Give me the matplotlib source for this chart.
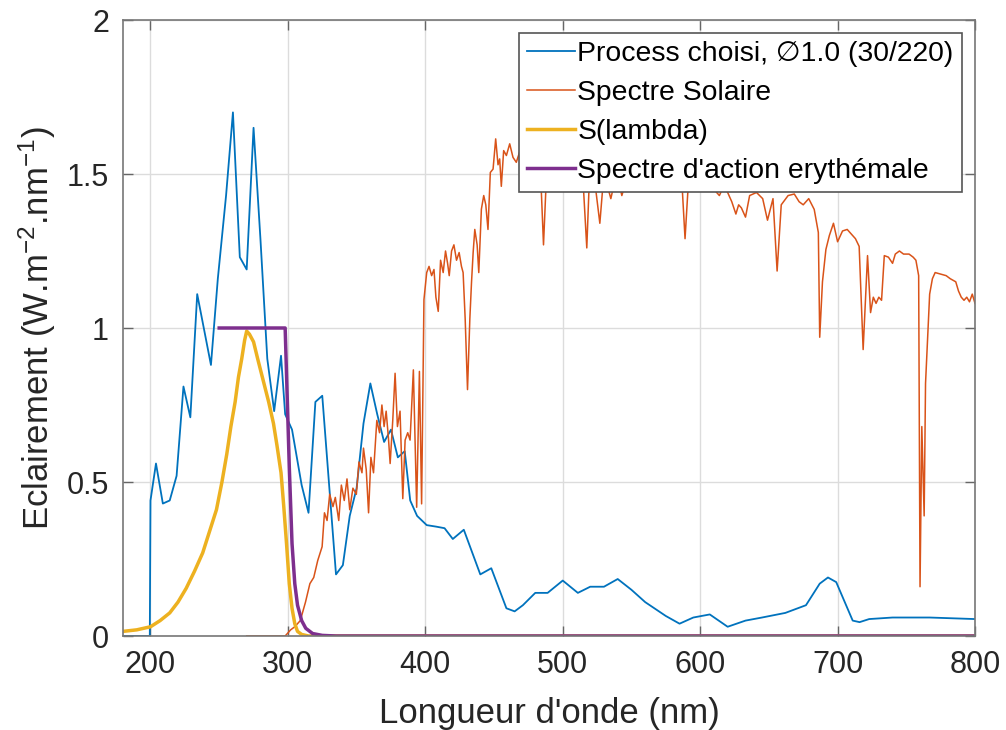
import matplotlib
import matplotlib.pyplot as plt

matplotlib.use('Agg')
plt.rcParams['font.family'] = ['Liberation Sans', 'DejaVu Sans']
plt.rcParams['mathtext.fontset'] = 'custom'
plt.rcParams['mathtext.rm'] = 'Liberation Sans'
plt.rcParams['mathtext.it'] = 'Liberation Sans:italic'
plt.rcParams['mathtext.bf'] = 'Liberation Sans:bold'

# Process choisi (lamp spectrum)
process_wl = [180, 199.5, 200, 204, 209, 214, 219, 224, 229, 234, 244, 249, 255, 260,
              265, 270, 275, 280, 285, 290, 295, 298, 303, 310, 315, 320, 325, 335,
              340, 345, 350, 355, 360, 365, 370, 375, 380, 385, 389, 394, 401, 408,
              414, 420, 428, 440, 448, 459, 465, 471, 480, 489, 500, 511, 520, 530,
              540, 550, 560, 575, 585, 595, 607, 620, 633, 645, 662, 677, 687, 693,
              699, 711, 716, 723, 740, 767, 800]
process_val = [0, 0, 0.44, 0.56, 0.43, 0.44, 0.52, 0.81, 0.71, 1.11, 0.88, 1.16, 1.43, 1.70,
               1.23, 1.19, 1.65, 1.29, 0.90, 0.73, 0.91, 0.72, 0.67, 0.49, 0.40, 0.76, 0.78, 0.20,
               0.23, 0.39, 0.48, 0.69, 0.82, 0.72, 0.63, 0.67, 0.58, 0.60, 0.44, 0.39, 0.36, 0.355,
               0.35, 0.315, 0.345, 0.20, 0.22, 0.09, 0.08, 0.10, 0.14, 0.14, 0.18, 0.14, 0.16, 0.16,
               0.185, 0.15, 0.11, 0.065, 0.04, 0.06, 0.07, 0.03, 0.05, 0.06, 0.075, 0.10, 0.17, 0.19,
               0.175, 0.05, 0.045, 0.055, 0.06, 0.06, 0.055]

# Spectre solaire
solar_wl = [270, 298, 302, 305, 309, 312.8, 316, 318.8, 321.7, 324.9, 326.6, 328.5, 330.4,
            332.8, 334.5, 337, 338.9, 341, 343, 345, 347.3, 349.8, 351.7, 353.9, 355, 357,
            358.7, 360.4, 362.3, 364.7, 366.7, 368.4, 370, 371.5, 373.2, 374.4, 376.3, 378,
            379.7, 381.6, 383.6, 385.3, 387.2, 388.9, 391.3, 393.7, 395.7, 397.3, 399, 401,
            402.7, 404.6, 406.3, 407.7, 409.4, 411.1, 413, 414.7, 416.2, 417.4, 419.1, 420.8,
            422.7, 424.6, 426.3, 427.5, 429, 430.7, 432.4, 433.6, 434.8, 436, 437.7, 438.9,
            440.8, 442.5, 444, 445.6, 447.3, 449.3, 451.2, 452.9, 454.1, 455.3, 457, 459,
            461.4, 463.8, 466.2, 468.6, 472, 476, 480, 484, 486, 488, 492, 495, 499, 503, 507,
            510, 515, 517.5, 519, 522, 524, 527, 529, 532, 535, 537, 540, 543, 545, 550, 555,
            560, 565, 570, 575, 580, 587, 589, 591, 596, 600, 605, 610, 614, 617, 620, 623,
            626, 628, 630, 633, 636, 641, 645.5, 649, 653, 656, 659, 664, 668.5, 672, 675,
            679, 683, 686, 687, 689, 691.5, 694, 697, 700, 703.6, 707, 711, 713, 715.7, 718.6,
            721.8, 724, 726, 728, 730, 732, 734, 737, 740, 742, 745, 748, 752, 755, 757, 759,
            760, 761.3, 763, 764, 767, 769, 771, 775, 779, 782, 786, 788, 790, 792, 794, 796,
            798, 800]
solar_val = [0, 0, 0.02, 0.03, 0.05, 0.11, 0.17, 0.19, 0.245, 0.29, 0.40, 0.375, 0.46,
             0.42, 0.45, 0.375, 0.49, 0.44, 0.51, 0.41, 0.48, 0.46, 0.565, 0.53, 0.61, 0.54,
             0.40, 0.58, 0.53, 0.70, 0.66, 0.75, 0.68, 0.73, 0.64, 0.56, 0.70, 0.853,
             0.68, 0.73, 0.446, 0.636, 0.66, 0.636, 0.864, 0.418, 0.859, 0.429, 1.092, 1.18,
             1.20, 1.17, 1.19, 1.10, 1.054, 1.22, 1.18, 1.25, 1.21, 1.17, 1.25, 1.27,
             1.22, 1.245, 1.20, 1.18, 1.03, 0.80, 1.03, 1.147, 1.245, 1.32, 1.27, 1.18,
             1.386, 1.43, 1.40, 1.32, 1.505, 1.516, 1.614, 1.53, 1.549, 1.46, 1.576, 1.56,
             1.598, 1.554, 1.538, 1.571, 1.53, 1.55, 1.50, 1.49, 1.27, 1.48, 1.52, 1.50, 1.53, 1.49, 1.51,
             1.47, 1.46, 1.26, 1.44, 1.48, 1.45, 1.34, 1.45, 1.47, 1.42, 1.46, 1.49, 1.43, 1.46, 1.50, 1.48,
             1.51, 1.47, 1.49, 1.46, 1.48, 1.45, 1.29, 1.44, 1.47, 1.46, 1.48, 1.45, 1.43, 1.46, 1.44, 1.41,
             1.37, 1.40, 1.39, 1.36, 1.43, 1.44, 1.42, 1.35, 1.42, 1.185, 1.40, 1.43, 1.435, 1.41, 1.40,
             1.42, 1.385, 1.31, 0.97, 1.15, 1.255, 1.30, 1.34, 1.28, 1.315, 1.32, 1.30, 1.29, 1.265, 0.93,
             1.235, 1.05, 1.10, 1.08, 1.10, 1.09, 1.235, 1.23, 1.21, 1.24, 1.25, 1.24, 1.24, 1.23, 1.22, 1.17,
             0.16, 0.68, 0.39, 0.82, 1.11, 1.16, 1.18, 1.175, 1.17, 1.16, 1.15, 1.12, 1.10, 1.09, 1.10, 1.085,
             1.11, 1.08]

# S(lambda)
s_wl = [180, 190, 200, 207, 214, 220, 226, 232, 238, 243, 248, 252, 255.5, 258.5, 261.6,
        264, 266.4, 268.5, 270, 272, 275, 278, 282, 286, 289.5, 292, 295, 297, 299, 301,
        303, 305, 307, 310, 315, 800]
s_val = [0.015, 0.02, 0.03, 0.05, 0.075, 0.11, 0.155, 0.21, 0.27, 0.34, 0.41, 0.50, 0.59, 0.68, 0.76,
         0.84, 0.90, 0.96, 0.99, 0.98, 0.955, 0.90, 0.83, 0.76, 0.69, 0.62, 0.53, 0.42, 0.30, 0.17,
         0.09, 0.04, 0.015, 0.005, 0, 0]

# Spectre d'action erythemale
ery_wl = [250, 298, 300, 301, 303, 305, 307, 310, 313, 318, 325, 335, 800]
ery_val = [1.0, 1.0, 0.7, 0.55, 0.3, 0.17, 0.10, 0.05, 0.025, 0.008, 0.002, 0, 0]

fig = plt.figure(figsize=(10.06, 7.30), dpi=100)
ax = fig.add_axes([123 / 1006, 94 / 730, 852 / 1006, 616 / 730])

ax.plot(process_wl, process_val, color='#0072BD', lw=1.3, label='Process choisi, \u22051.0 (30/220)')
ax.plot(solar_wl, solar_val, color='#D95319', lw=1.1, label='Spectre Solaire')
ax.plot(s_wl, s_val, color='#EDB120', lw=2.5, label='S(lambda)')
ax.plot(ery_wl, ery_val, color='#7E2F8E', lw=2.5, label="Spectre d'action erythémale")

ax.set_xlim(180, 800)
ax.set_ylim(0, 2)
ax.set_xticks([200, 300, 400, 500, 600, 700, 800])
ax.set_yticks([0, 0.5, 1, 1.5, 2])
ax.set_yticklabels(['0', '0.5', '1', '1.5', '2'])
ax.grid(True, color='#dcdcdc', lw=1)
ax.set_axisbelow(True)
ax.tick_params(direction='in', length=7, width=1, top=True, right=True,
               labelsize=22, colors='#666666', labelcolor='#262626', pad=10)
for sp in ax.spines.values():
    sp.set_color('#777777')
    sp.set_linewidth(1.2)

ax.set_xlabel("Longueur d'onde (nm)", fontsize=25, color='#262626', labelpad=12)
ax.set_ylabel('Eclairement (W.m$^{-2}$.nm$^{-1}$)', fontsize=25, color='#262626', labelpad=6)

leg = ax.legend(loc='upper right', fontsize=20.4, fancybox=False, framealpha=1,
                edgecolor='#555555', handlelength=1.7, handletextpad=0.08,
                borderaxespad=0.45, labelspacing=0.45, borderpad=0.3)
leg.get_frame().set_linewidth(1.2)

fig.savefig('out.png', dpi=100)
